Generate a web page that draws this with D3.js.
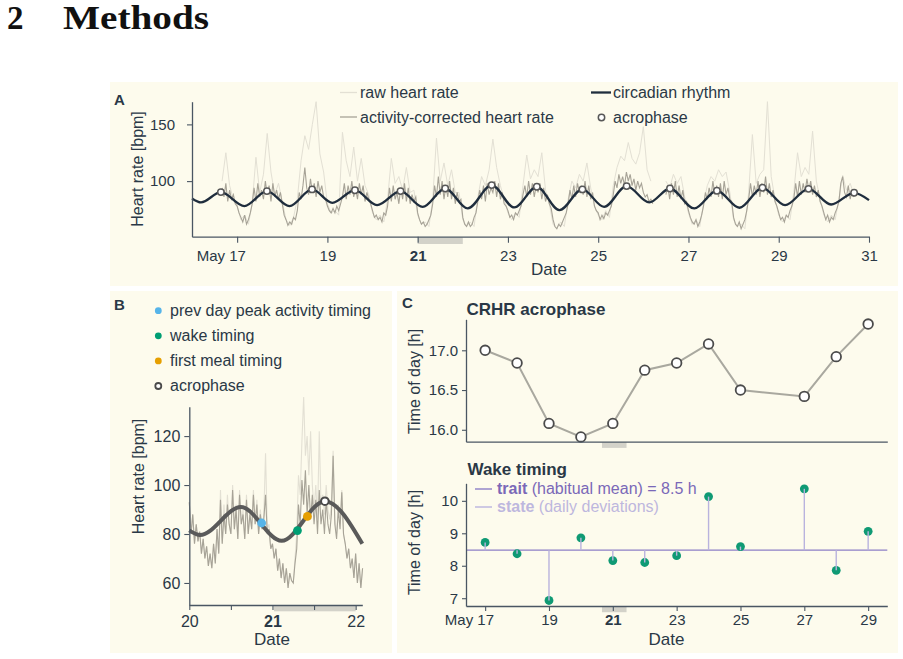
<!DOCTYPE html>
<html>
<head>
<meta charset="utf-8">
<script src="https://cdn.jsdelivr.net/npm/d3@7"></script>
<style>
  body { margin: 0; background: #fff; }
  svg { display: block; }
  text { font-family: "Liberation Sans", Arial, sans-serif; }
</style>
</head>
<body>
<script>
// ---- data ----
// panel A: activity-corrected heart rate every hour from May 16 16:00 (null = no recording)
const hrStart = 16 + 16 / 24
const hrStep = 1 / 24
const hrCorrected = [
  94, 86, 98, 82, 92, 84, 88, 80,
  78, 72, 68, 64, 70, 62, 66, 72, 80, 94, 82, 98, 86, 92, 84, 100, 88, 96, 82, 98, 86, 92, 84, 90,
  80, 70, 66, 61, 64, 62, 68, 66, 74, 90, 84, 96, 112, 94, 88, 102, 90, 98, 86, 100, 90, 96, 86, 84,
  78, 74, 72, 76, 72, 78, 74, 80, 86, 98, 84, 96, 88, 100, 86, 94, 84, 98, 88, 96, 82, 90, 84, 80,
  74, 68, 70, 66, 68, 64, 72, 70, 78, 94, 82, 96, 84, 90, 80, 94, 84, 98, 82, 94, 80, 88, 82, 86,
  72, 66, 62, 64, 60, 62, 66, 70, 80, 96, 86, 104, 88, 100, 84, 96, 86, 100, 84, 94, 80, 90, 82, 84,
  68, 62, 60, 64, 60, 62, 68, 72, 82, 92, 84, 96, 82, 98, 88, 94, 90, 100, 86, 98, 84, 90, 80, 78,
  74, 68, 70, 66, 72, 70, 74, 78, 88, 96, 86, 100, 88, 98, 86, 96, 90, 98, 84, 94, 82, 88, 80, 76,
  66, 60, 58, 62, 60, 64, 68, 72, 80, 92, 84, 96, 86, 98, 90, 96, 88, 100, 86, 96, 84, 90, 78, 74,
  72, 66, 70, 67, 72, 70, 74, 78, 88, 100, 94, 106, 98, 104, 96, 108, 100, 106, 96, 102, 92, 100, 94, 98,
  90, 86, 88, 82, 84, 80, null, null, null, null, null, null, 88, 96, 84, 98, 88, 100, 86, 96, 84, 92, 80, 82,
  74, 68, 64, 62, 66, 60, 64, 70, 78, 90, 84, 94, 86, 100, 88, 96, 86, 98, 84, 100, 88, 94, 84, 82,
  68, 62, 60, 64, 58, 62, 66, 74, 84, 98, 86, 96, 88, 100, 86, 98, 90, 104, 88, 98, 86, 92, 82, 78,
  72, 66, 68, 64, 70, 68, 74, 78, 84, 98, 86, 100, 88, 98, 90, 102, 92, 100, 88, 96, 86, 92, 82, 78,
  72, 66, 70, 64, 68, 66, 72, 76, 82, 98, 104, 90, 86, 96, 84, 92, 86
]
// raw heart rate every 2 h from May 16 16:00
const rawStart = 16 + 8 / 12
const rawStep = 1 / 12
const hrRaw = [
  100, 125, 96, 84,
  78, 66, 70, 62, 80, 121, 90, 106, 142, 108, 88, 98,
  82, 66, 61, 68, 84, 118, 140, 128, 150, 170, 124, 108,
  80, 72, 74, 70, 143, 118, 104, 130, 100, 120, 96, 88,
  72, 66, 70, 64, 84, 120, 98, 104, 92, 112, 90, 92,
  70, 62, 64, 60, 84, 138, 100, 116, 96, 110, 90, 90,
  66, 60, 64, 60, 86, 104, 96, 110, 137, 112, 96, 84,
  72, 66, 72, 68, 96, 123, 102, 110, 104, 125, 92, 80,
  62, 58, 64, 60, 84, 100, 94, 106, 100, 116, 94, 78,
  70, 66, 74, 68, 96, 112, 122, 118, 134, 120, 115, 125,
  148, 110, 100, null, null, null, 100, 94, 106, 98, 104, 86,
  72, 62, 66, 60, 80, 96, 104, 100, 110, 104, 108, 90,
  66, 60, 62, 58, 90, 141, 98, 106, 110, 170, 104, 84,
  70, 64, 70, 66, 90, 125, 104, 112, 106, 144, 100, 84,
  70, 64, 70, 66, 84, 105, 92, 98, 88
]
// circadian fit of panel A: troughs and acrophases (day, bpm)
const troughDaysA = [16.0, 16.2, 17.16, 18.16, 19.11, 20.1, 21.11, 22.11, 23.14, 24.14, 25.13, 26.13, 27.13, 28.13, 29.14, 30.16, 31.0]
const troughBpmA = [84.7, 81.2, 78, 78, 80.9, 78.8, 77.3, 75.9, 76.8, 74.4, 77.3, 81.2, 75.9, 76.5, 78.8, 79.4, 83.2]
const acroDaysA = [16.64, 17.66, 18.66, 19.61, 20.62, 21.61, 22.64, 23.64, 24.65, 25.63, 26.59, 27.63, 28.64, 29.66, 30.67]
const acroBpmA = [90.3, 91.2, 92.7, 92, 91.2, 93.5, 96.5, 95, 92.7, 95.6, 93.5, 91.5, 94.1, 93.2, 89.7]
const datesA = [17, 19, 21, 23, 25, 27, 29, 31]
const hrTicksA = [100, 150]
const focusDay = [21, 22]

// panel B: May 20-22 every 30 min
const bStart = 20
const bStep = 1 / 48
const bCorrected = [
  93, 80, 88, 76, 84, 77, 81, 72, 78, 70, 75, 67,
  72, 66, 76, 68, 82, 72, 94, 76, 88, 80, 92, 84,
  80, 98, 82, 90, 78, 96, 84, 88, 78, 94, 80, 88,
  82, 96, 84, 92, 80, 88, 82, 86, 96, 80, 82, 74,
  76, 70, 74, 65, 70, 62, 68, 60, 66, 58, 64, 61,
  60, 68, 74, 92, 84, 102, 92, 106, 88, 100, 86, 96,
  84, 94, 80, 98, 84, 90, 80, 94, 84, 80, 88, 112,
  84, 78, 90, 82, 97, 80, 76, 70, 74, 66, 70, 62,
  72, 60, 68, 58, 66
]
const bRaw = [
  93, 80, 88, 76, 84, 77, 81, 72, 78, 70, 75, 67,
  72, 66, 76, 68, 82, 72, 98, 76, 92, 80, 96, 84,
  80, 100, 82, 92, 78, 98, 84, 90, 78, 96, 80, 90,
  82, 98, 84, 94, 80, 90, 82, 88, 113, 82, 84, 74,
  76, 70, 74, 65, 70, 62, 68, 60, 66, 58, 64, 61,
  60, 70, 80, 104, 96, 118, 136, 112, 120, 104, 122, 100,
  90, 100, 86, 122, 92, 96, 88, 100, 90, 86, 92, 114,
  86, 80, 92, 84, 98, 80, 76, 70, 74, 66, 70, 62,
  72, 60, 68, 58, 66
]
const rhythmDaysB = [20.0, 20.13, 20.62, 21.11, 21.63, 22.08]
const rhythmBpmB = [81.5, 79.6, 91, 77.2, 93.4, 76]
const markerNames = ['prev day peak activity timing', 'wake timing', 'first meal timing', 'acrophase']
const markerDays = [20.87, 21.3, 21.42, 21.63]
const markerBpm = [84.5, 81.4, 87.2, 93.4]
const datesB = [20, 20.5, 21, 21.5, 22]
const hrTicksB = [60, 80, 100, 120]

// panel C
const crhrDays = [17, 18, 19, 20, 21, 22, 23, 24, 25, 27, 28, 29]
const crhrHour = [17.0, 16.84, 16.08, 15.91, 16.08, 16.75, 16.84, 17.08, 16.5, 16.42, 16.92, 17.33]
const wakeDays = [17, 18, 19, 20, 21, 22, 23, 24, 25, 27, 28, 29]
const wakeHour = [8.72, 8.37, 6.93, 8.86, 8.16, 8.1, 8.31, 10.13, 8.59, 10.37, 7.86, 9.06]
const wakeTrait = 8.48
const datesC = [17, 19, 21, 23, 25, 27, 29]
const crhrTicks = [16.0, 16.5, 17.0]
const wakeTicks = [7, 8, 9, 10]
const focusDayC = [20.66, 21.43]

// ---- styles ----
const ink = '#2a3846'
const axisInk = '#4a5663'
const cream = '#fdfbed'
const barGrey = '#d3d2c9'
const rawCol = '#e3e0d4'
const corrCol = '#a7a397'
const green = '#0f9a74'

const svg = d3.select('body').append('svg').attr('width', 903).attr('height', 659)
svg.append('rect').attr('width', 903).attr('height', 659).attr('fill', '#fff')

svg.append('text').attr('x', 7).attr('y', 29)
  .style('font-family', '"Liberation Serif", serif').style('font-weight', 'bold').style('font-size', '33px')
  .attr('fill', '#111').text('2')
svg.append('text').attr('x', 63).attr('y', 29)
  .style('font-family', '"Liberation Serif", serif').style('font-weight', 'bold').style('font-size', '33px')
  .attr('fill', '#111').attr('textLength', 146).attr('lengthAdjust', 'spacingAndGlyphs').text('Methods')

// panel backgrounds
;[[110, 82, 788, 204], [110, 291, 282, 362], [397, 291, 501, 362]].forEach(p => {
  svg.append('rect').attr('x', p[0]).attr('y', p[1]).attr('width', p[2]).attr('height', p[3]).attr('fill', cream)
})

const styleAxis = (g, size) => {
  g.attr('font-family', '"Liberation Sans", Arial, sans-serif').attr('font-size', size)
  g.select('.domain').attr('stroke', axisInk).attr('stroke-width', 1.3)
  g.selectAll('.tick line').attr('stroke', axisInk).attr('stroke-width', 1.1)
  g.selectAll('.tick text').attr('fill', ink)
}
// "May 17": keep the day number centred on its tick, month hangs to the left
const monthLabel = g => {
  g.selectAll('.tick text').filter(d => d === 17).each(function () {
    const t = d3.select(this).text('17')
    const w = this.getComputedTextLength()
    t.text('May 17').attr('text-anchor', 'end').attr('dx', w / 2)
  })
}
const boldFocus = g => g.selectAll('.tick text').filter(d => d === 21).attr('font-weight', 'bold')

const label = (x, y, txt, size, opts = {}) => {
  const t = svg.append('text').attr('x', x).attr('y', y).attr('fill', opts.fill || ink)
    .style('font-size', size + 'px').text(txt)
  if (opts.bold) t.style('font-weight', 'bold')
  if (opts.anchor) t.attr('text-anchor', opts.anchor)
  return t
}
const vLabel = (x, y, txt, size) => {
  svg.append('text').attr('transform', `translate(${x},${y}) rotate(-90)`)
    .attr('text-anchor', 'middle').attr('fill', ink).style('font-size', size + 'px').text(txt)
}

// ================= panel A =================
const xA = d3.scaleLinear().domain([16, 31]).range([192, 869])
const yA = d3.scaleLinear().domain([51, 170]).range([236.7, 101.7])

svg.append('rect')
  .attr('x', xA(focusDay[0])).attr('width', xA(focusDay[1]) - xA(focusDay[0]))
  .attr('y', yA.range()[0] + 0.8).attr('height', 6.5).attr('fill', barGrey)

const lineA = d3.line().defined(d => d[1] != null).x(d => xA(d[0])).y(d => yA(d[1]))

svg.append('path').datum(hrRaw.map((v, i) => [rawStart + i * rawStep, v])).attr('d', lineA)
  .attr('fill', 'none').attr('stroke', rawCol).attr('stroke-width', 1)
svg.append('path').datum(hrCorrected.map((v, i) => [hrStart + i * hrStep, v])).attr('d', lineA)
  .attr('fill', 'none').attr('stroke', corrCol).attr('stroke-width', 1.1)

const rhythmA = troughDaysA.map((d, i) => [d, troughBpmA[i]])
  .concat(acroDaysA.map((d, i) => [d, acroBpmA[i]]))
  .sort((a, b) => a[0] - b[0])
svg.append('path').datum(rhythmA)
  .attr('d', d3.line().curve(d3.curveMonotoneX).x(d => xA(d[0])).y(d => yA(d[1])))
  .attr('fill', 'none').attr('stroke', '#1f2d3d').attr('stroke-width', 2.3)

svg.selectAll('.acroA').data(acroDaysA).enter().append('circle')
  .attr('cx', d => xA(d)).attr('cy', (d, i) => yA(acroBpmA[i])).attr('r', 3.2)
  .attr('fill', '#fff').attr('stroke', '#575757').attr('stroke-width', 1.5)

svg.append('g').attr('transform', `translate(0,${yA.range()[0]})`)
  .call(d3.axisBottom(xA).tickValues(datesA).tickSize(6).tickPadding(8).tickSizeOuter(0))
  .call(g => styleAxis(g, 15)).call(monthLabel).call(boldFocus)
svg.append('g').attr('transform', `translate(${xA.range()[0]},0)`)
  .call(d3.axisLeft(yA).tickValues(hrTicksA).tickSize(5).tickPadding(12).tickSizeOuter(0))
  .call(g => styleAxis(g, 15))

label(114, 104.5, 'A', 15, { bold: true })
vLabel(143, 169, 'Heart rate [bpm]', 16)
label(549, 275, 'Date', 17, { anchor: 'middle' })

// legend A
svg.append('line').attr('x1', 340).attr('x2', 357).attr('y1', 92.5).attr('y2', 92.5).attr('stroke', rawCol).attr('stroke-width', 1.3)
label(360, 97.5, 'raw heart rate', 16)
svg.append('line').attr('x1', 340).attr('x2', 357).attr('y1', 117).attr('y2', 117).attr('stroke', corrCol).attr('stroke-width', 1.3)
label(360, 122.5, 'activity-corrected heart rate', 16)
svg.append('line').attr('x1', 591).attr('x2', 611).attr('y1', 92.5).attr('y2', 92.5).attr('stroke', '#1f2d3d').attr('stroke-width', 2.3)
label(613, 97.5, 'circadian rhythm', 16)
svg.append('circle').attr('cx', 601.5).attr('cy', 117.5).attr('r', 3.2)
  .attr('fill', '#fff').attr('stroke', '#575757').attr('stroke-width', 1.5)
label(613, 122.5, 'acrophase', 16)

// ================= panel B =================
const xB = d3.scaleLinear().domain([20, 22.08]).range([189.3, 362.3])
const yB = d3.scaleLinear().domain([51, 132]).range([605, 406.7])
const markerCols = ['#56b4e9', '#009e73', '#e69f00', '#fff']

svg.append('rect')
  .attr('x', xB(focusDay[0]) + 1.5).attr('width', xB(focusDay[1]) - xB(focusDay[0]) - 1.5)
  .attr('y', yB.range()[0] + 0.8).attr('height', 5.5).attr('fill', barGrey)

const seriesB = arr => arr.map((v, i) => [bStart + i * bStep, v])
const lineB = d3.line().x(d => xB(d[0])).y(d => yB(d[1]))
svg.append('path').datum(seriesB(bRaw)).attr('d', lineB)
  .attr('fill', 'none').attr('stroke', rawCol).attr('stroke-width', 1.1)
svg.append('path').datum(seriesB(bCorrected)).attr('d', lineB)
  .attr('fill', 'none').attr('stroke', corrCol).attr('stroke-width', 1.1)

svg.append('path').datum(rhythmDaysB.map((d, i) => [d, rhythmBpmB[i]]))
  .attr('d', d3.line().curve(d3.curveMonotoneX).x(d => xB(d[0])).y(d => yB(d[1])))
  .attr('fill', 'none').attr('stroke', '#5a5a5a').attr('stroke-width', 4)

svg.selectAll('.markB').data(markerDays).enter().append('circle')
  .attr('cx', d => xB(d)).attr('cy', (d, i) => yB(markerBpm[i]))
  .attr('r', (d, i) => i === 3 ? 3.8 : 4.4)
  .attr('fill', (d, i) => markerCols[i])
  .attr('stroke', (d, i) => i === 3 ? '#4a4a4a' : 'none').attr('stroke-width', 2)

svg.append('g').attr('transform', `translate(0,${yB.range()[0]})`)
  .call(d3.axisBottom(xB).tickValues(datesB).tickFormat(d => Number.isInteger(d) ? d : '')
    .tickSize(5).tickPadding(6).tickSizeOuter(0))
  .call(g => styleAxis(g, 16)).call(boldFocus)
svg.append('g').attr('transform', `translate(${xB.range()[0]},0)`)
  .call(d3.axisLeft(yB).tickValues(hrTicksB).tickSize(5).tickPadding(4).tickSizeOuter(0))
  .call(g => styleAxis(g, 16))

label(114, 310, 'B', 15, { bold: true })
vLabel(144, 476.5, 'Heart rate [bpm]', 16)
label(272, 644.5, 'Date', 17, { anchor: 'middle' })

markerNames.forEach((name, i) => {
  const cy = 310.7 + i * 25.1
  svg.append('circle').attr('cx', 158.3).attr('cy', cy).attr('r', i === 3 ? 3 : 3.4)
    .attr('fill', markerCols[i]).attr('stroke', i === 3 ? '#4a4a4a' : 'none').attr('stroke-width', 1.8)
  label(170, cy + 5.3, name, 16)
})

// ================= panel C =================
const xC = d3.scaleLinear().domain([16.4, 29.6]).range([466, 887.3])
const yC1 = d3.scaleLinear().domain([15.85, 17.39]).range([441.7, 319.3])
const yC2 = d3.scaleLinear().domain([6.76, 10.54]).range([606, 483.3])

label(402, 308.3, 'C', 15, { bold: true })

// top: CRHR acrophase
svg.append('rect')
  .attr('x', xC(focusDayC[0])).attr('width', xC(focusDayC[1]) - xC(focusDayC[0]))
  .attr('y', yC1.range()[0] + 0.7).attr('height', 5.5).attr('fill', barGrey)
svg.append('path').datum(crhrDays.map((d, i) => [d, crhrHour[i]]))
  .attr('d', d3.line().x(d => xC(d[0])).y(d => yC1(d[1])))
  .attr('fill', 'none').attr('stroke', '#a9a89f').attr('stroke-width', 2)
svg.selectAll('.crhr').data(crhrDays).enter().append('circle')
  .attr('cx', d => xC(d)).attr('cy', (d, i) => yC1(crhrHour[i])).attr('r', 4.8)
  .attr('fill', '#fff').attr('stroke', '#4b4b4b').attr('stroke-width', 1.8)

svg.append('g').attr('transform', `translate(0,${yC1.range()[0]})`)
  .call(d3.axisBottom(xC).tickValues([]).tickSizeOuter(0))
  .call(g => styleAxis(g, 15))
svg.append('g').attr('transform', `translate(${xC.range()[0]},0)`)
  .call(d3.axisLeft(yC1).tickValues(crhrTicks).tickFormat(d3.format('.1f')).tickSize(4).tickPadding(4).tickSizeOuter(0))
  .call(g => styleAxis(g, 15))
label(466.5, 315, 'CRHR acrophase', 17, { bold: true })
vLabel(420, 381.5, 'Time of day [h]', 16)

// bottom: wake timing
svg.append('rect')
  .attr('x', xC(focusDayC[0])).attr('width', xC(focusDayC[1]) - xC(focusDayC[0]))
  .attr('y', yC2.range()[0] + 0.7).attr('height', 5.5).attr('fill', barGrey)
svg.append('line').attr('x1', xC.range()[0]).attr('x2', xC.range()[1])
  .attr('y1', yC2(wakeTrait)).attr('y2', yC2(wakeTrait)).attr('stroke', '#8c7fc6').attr('stroke-width', 1.4)
svg.selectAll('.wake').data(wakeDays).enter().append('circle')
  .attr('cx', d => xC(d)).attr('cy', (d, i) => yC2(wakeHour[i])).attr('r', 4.4).attr('fill', green)
svg.selectAll('.stem').data(wakeDays).enter().append('line')
  .attr('x1', d => xC(d)).attr('x2', d => xC(d))
  .attr('y1', yC2(wakeTrait)).attr('y2', (d, i) => yC2(wakeHour[i]))
  .attr('stroke', '#b9b3de').attr('stroke-width', 1.4)

svg.append('g').attr('transform', `translate(0,${yC2.range()[0]})`)
  .call(d3.axisBottom(xC).tickValues(datesC).tickSize(5).tickPadding(3.5).tickSizeOuter(0))
  .call(g => styleAxis(g, 15)).call(monthLabel).call(boldFocus)
svg.append('g').attr('transform', `translate(${xC.range()[0]},0)`)
  .call(d3.axisLeft(yC2).tickValues(wakeTicks).tickFormat(d3.format('d')).tickSize(4).tickPadding(4).tickSizeOuter(0))
  .call(g => styleAxis(g, 15))
label(467.5, 474.5, 'Wake timing', 17, { bold: true })
vLabel(420, 542.5, 'Time of day [h]', 16)
label(666.5, 645, 'Date', 17, { anchor: 'middle' })

// legend wake timing
svg.append('line').attr('x1', 475).attr('x2', 492).attr('y1', 489).attr('y2', 489).attr('stroke', '#8c7fc6').attr('stroke-width', 1.4)
const trait = label(497, 494, '', 16, { fill: '#7a68b8' })
trait.append('tspan').style('font-weight', 'bold').text('trait')
trait.append('tspan').text(' (habitual mean) = 8.5 h')
svg.append('line').attr('x1', 475).attr('x2', 492).attr('y1', 507).attr('y2', 507).attr('stroke', '#b9b3de').attr('stroke-width', 1.4)
const state = label(497, 512, '', 16, { fill: '#bdb7de' })
state.append('tspan').style('font-weight', 'bold').text('state')
state.append('tspan').text(' (daily deviations)')
</script>
</body>
</html>
